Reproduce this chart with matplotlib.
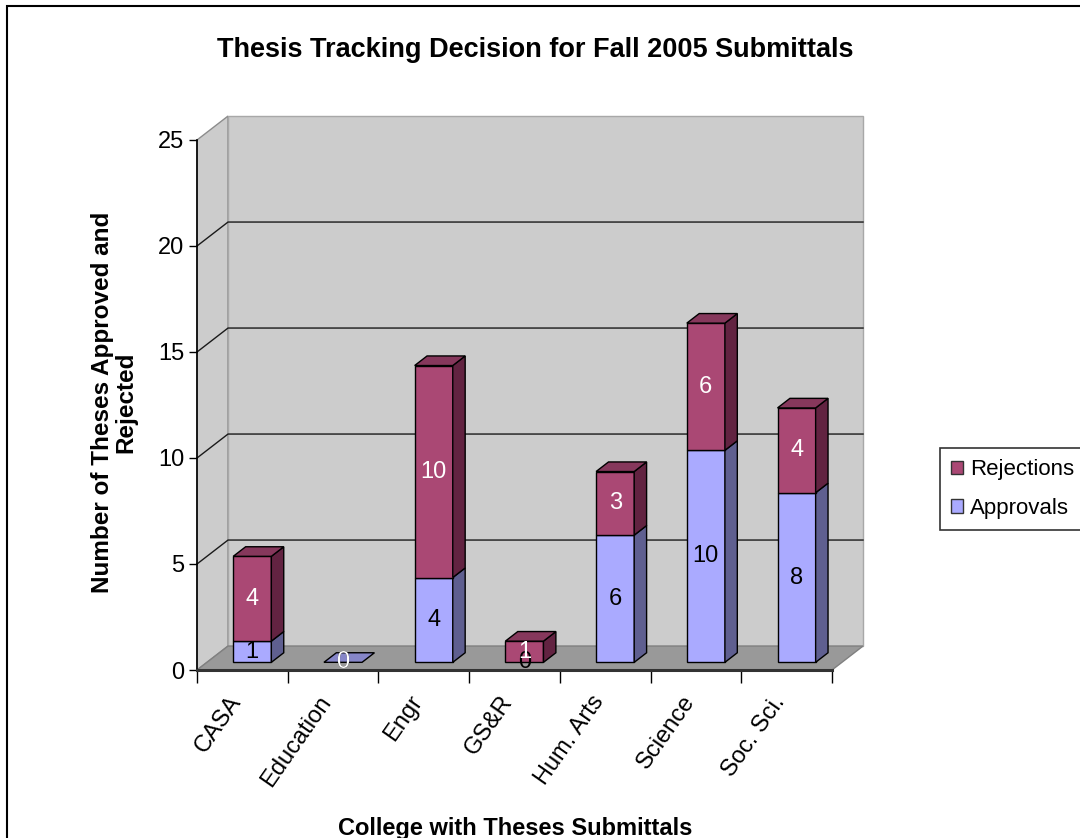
import matplotlib
matplotlib.use("Agg")
import matplotlib.pyplot as plt
from matplotlib.patches import Polygon, Rectangle, Patch
from matplotlib.transforms import ScaledTranslation

plt.rcParams['font.family'] = ['Liberation Sans', 'DejaVu Sans']

# thesis decisions per college, fall 2005
colleges = ['CASA', 'Education', 'Engr', 'GS&R', 'Hum. Arts', 'Science', 'Soc. Sci.']
approvals = [1, 0, 4, 0, 6, 10, 8]
rejections = [4, 0, 10, 1, 3, 6, 4]
y_ticks = [0, 5, 10, 15, 20, 25]

# colours: front, side, top for each series
appr_cols = ('#AAAAFF', '#5F5F90', '#8686C8')
rej_cols = ('#AA4874', '#622341', '#86385C')
wall_col = '#CCCCCC'
floor_col = '#999999'

# oblique depth of the plot box, in data units (categories, values)
DX = 0.342
DY = 1.13
# bars sit between these fractions of the depth
F0, F1 = 0.32, 0.72
BW = 0.42
FS = 17

fig = plt.figure(figsize=(10.8, 8.38), dpi=100)
W, H = 1080, 838
ax = fig.add_axes([197 / W, (838 - 670) / H, 635 / W, 530 / H])
ax.set_xlim(0, len(colleges))
ax.set_ylim(0, 25)
ax.patch.set_visible(False)
for s in ['top', 'right']:
    ax.spines[s].set_visible(False)
ax.spines['left'].set_linewidth(1.2)
ax.spines['left'].set_zorder(2)
ax.spines['bottom'].set_linewidth(2.2)
ax.spines['bottom'].set_color('#333333')
ax.spines['bottom'].set_zorder(2)

n = len(colleges)
ymax = y_ticks[-1]


def poly(pts, fc, ec, z, lw=1.0):
    ax.add_patch(Polygon(pts, closed=True, facecolor=fc, edgecolor=ec,
                         linewidth=lw, zorder=z, clip_on=False))


# walls and floor
poly([(0, 0), (0, ymax), (DX, ymax + DY), (DX, DY)], wall_col, '#8C8C8C', 0.5)
poly([(DX, DY), (n + DX, DY), (n + DX, ymax + DY), (DX, ymax + DY)], wall_col, '#A8A8A8', 0.5)
poly([(0, 0), (n, 0), (n + DX, DY), (DX, DY)], floor_col, '#808080', 0.6)

# gridlines on the side and back walls
for v in y_ticks[1:-1]:
    ax.plot([0, DX, n + DX], [v, v + DY, v + DY], color='#1A1A1A', lw=1.0,
            zorder=0.8, clip_on=False)

# stacked 3d bars
for i in range(n):
    base = 0.0
    x0 = i + (1 - BW) / 2 + F0 * DX
    x1 = x0 + BW
    ddx = (F1 - F0) * DX
    ddy = (F1 - F0) * DY
    segs = [(approvals[i], appr_cols, 'black'), (rejections[i], rej_cols, 'white')]
    total = sum(s[0] for s in segs)
    top_seen = False
    for k, (val, cols, tcol) in enumerate(segs):
        y0 = base + F0 * DY
        y1 = base + val + F0 * DY
        if val > 0:
            poly([(x0, y0), (x1, y0), (x1, y1), (x0, y1)], cols[0], 'black', 3)
            poly([(x1, y0), (x1 + ddx, y0 + ddy), (x1 + ddx, y1 + ddy), (x1, y1)],
                 cols[1], 'black', 3)
        is_top = (base + val == total) and (val > 0 or (total == 0 and k == 0))
        if is_top and not top_seen:
            poly([(x0, y1), (x1, y1), (x1 + ddx, y1 + ddy), (x0 + ddx, y1 + ddy)],
                 cols[2], 'black', 3.1)
            top_seen = True
        ax.text((x0 + x1) / 2, base + val / 2 + F0 * DY, str(val), color=tcol,
                fontsize=FS, ha='center', va='center', zorder=5, clip_on=False)
        base += val

# axis ticks and labels
ax.set_yticks(y_ticks)
ax.set_yticklabels([str(t) for t in y_ticks], fontsize=FS)
ax.tick_params(axis='y', length=6, width=1, pad=3)
ax.set_xticks(range(n + 1))
ax.set_xticklabels([])
ax.tick_params(axis='x', which='major', length=9, width=1)
ax.set_xticks([i + 0.5 for i in range(n)], minor=True)
ax.set_xticklabels(colleges, minor=True, rotation=55, ha='right',
                   rotation_mode='anchor', fontsize=FS)
ax.tick_params(axis='x', which='minor', length=0, pad=7)
shift = ScaledTranslation(-15 / 100, -12 / 100, fig.dpi_scale_trans)
for lab in ax.get_xticklabels(minor=True):
    lab.set_transform(lab.get_transform() + shift)

fig.text(535 / W, 1 - 50 / H, 'Thesis Tracking Decision for Fall 2005 Submittals',
         fontsize=19.5, fontweight='bold', ha='center', va='center')
fig.text(515 / W, 1 - 828 / H, 'College with Theses Submittals',
         fontsize=17, fontweight='bold', ha='center', va='center')
fig.text(114 / W, 1 - 402 / H, 'Number of Theses Approved and\nRejected',
         fontsize=17.5, fontweight='bold', ha='center', va='center', rotation=90,
         linespacing=1.0)

handles = [Patch(facecolor=rej_cols[0], edgecolor='#333333', label='Rejections'),
           Patch(facecolor=appr_cols[0], edgecolor='#333333', label='Approvals')]
leg = fig.legend(handles=handles, loc='upper left',
                 bbox_to_anchor=(940 / W, 1 - 448 / H), fontsize=16,
                 frameon=True, fancybox=False, edgecolor='black',
                 handlelength=0.55, handleheight=0.55, handletextpad=0.3,
                 borderpad=0.5, labelspacing=0.8, borderaxespad=0)
leg.get_frame().set_linewidth(1.2)

# outer chart border
fig.add_artist(Rectangle((7 / W, -0.1), 1.2, 1 - 6 / H + 0.1, transform=fig.transFigure,
                         fill=False, edgecolor='black', linewidth=1.5))

fig.savefig('out.png', dpi=100)
